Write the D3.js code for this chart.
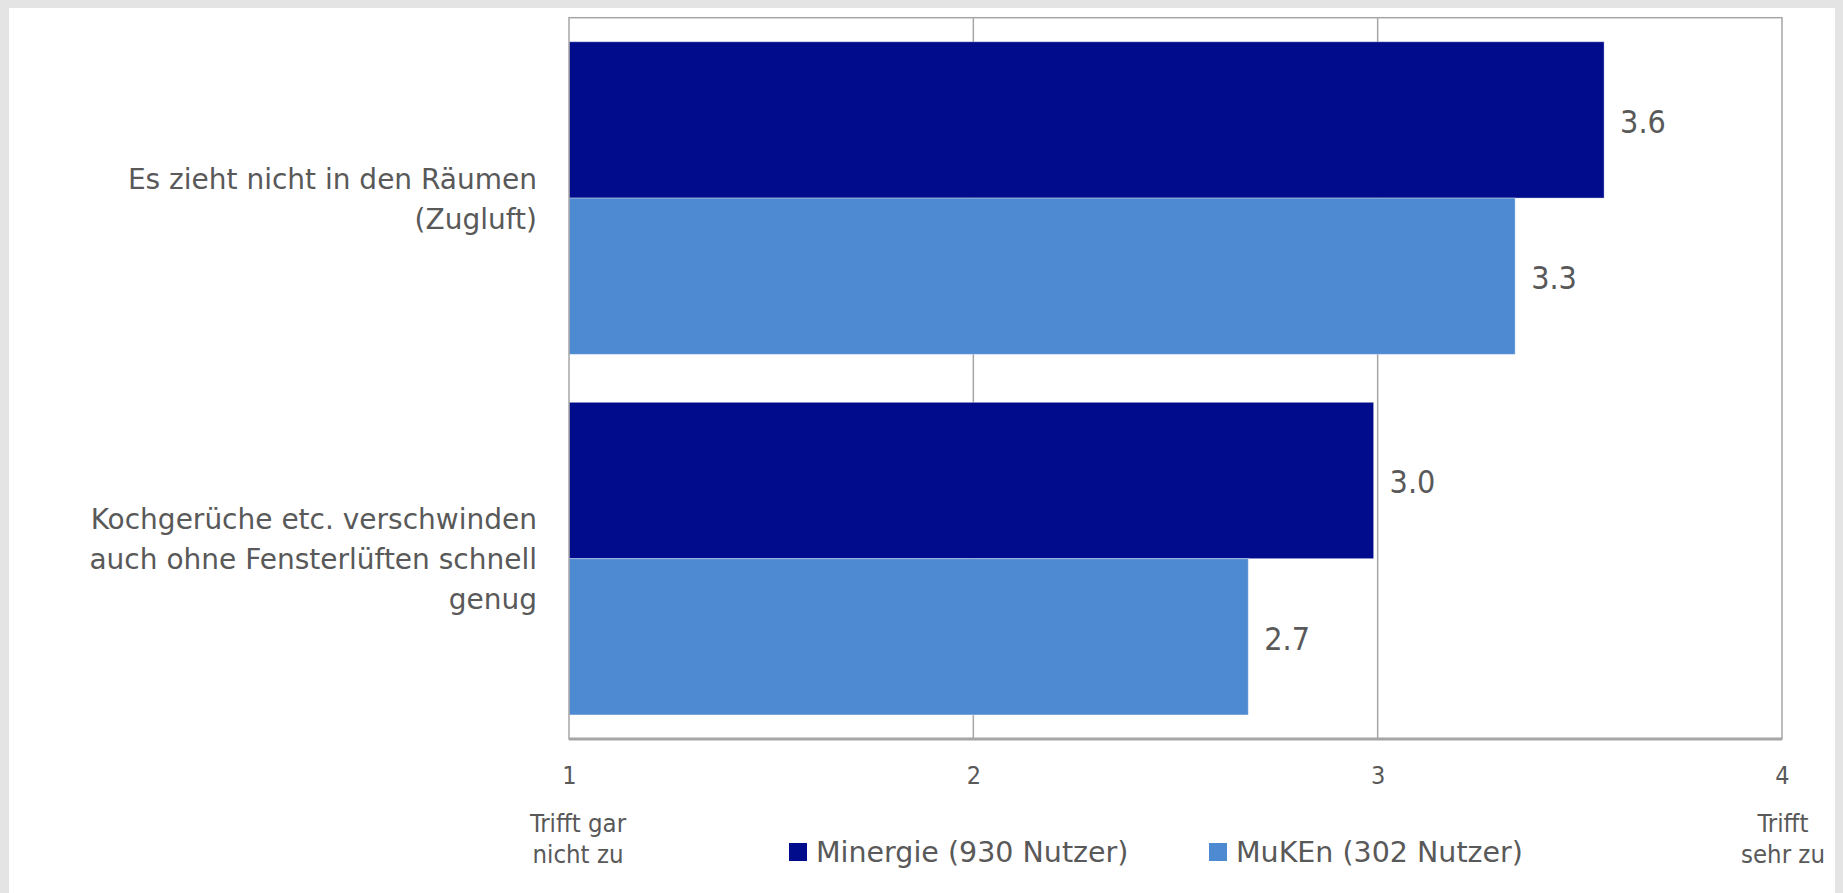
<!DOCTYPE html>
<html>
<head>
<meta charset="utf-8">
<script src="https://cdn.jsdelivr.net/npm/d3@7"></script>
<style>
  html, body { margin: 0; padding: 0; background: #e4e4e4; }
  svg { display: block; }
  text { font-family: "DejaVu Sans", sans-serif; fill: #595959; }
  .narrow { font-family: "DejaVu Sans Condensed", "DejaVu Sans", sans-serif; font-stretch: condensed; }
</style>
</head>
<body>
<svg id="chart" width="1843" height="893"></svg>
<script>
// Survey statements (line breaks mark the wrapped label lines)
const categories = [
  "Es zieht nicht in den Räumen\n(Zugluft)",
  "Kochgerüche etc. verschwinden\nauch ohne Fensterlüften schnell\ngenug"
];
const seriesNames = ["Minergie (930 Nutzer)", "MuKEn (302 Nutzer)"];
const minergieValues = [3.56, 2.99];
const mukenValues = [3.34, 2.68];
const tickValues = [1, 2, 3, 4];
const lowEndLabel = ["Trifft gar", "nicht zu"];
const highEndLabel = ["Trifft", "sehr zu"];

const colors = { "Minergie (930 Nutzer)": "#000c8c", "MuKEn (302 Nutzer)": "#4e8ad2" };
const seriesValues = { "Minergie (930 Nutzer)": minergieValues, "MuKEn (302 Nutzer)": mukenValues };

const svg = d3.select("#chart");
const W = 1843, H = 893;
const plot = { left: 569, right: 1782, top: 17.7, bottom: 739 };

// White card on grey page
svg.append("rect").attr("x", 9).attr("y", 8).attr("width", 1826).attr("height", H - 8).attr("fill", "#fff");

const x = d3.scaleLinear().domain([1, 4]).range([plot.left, plot.right]);
const y = d3.scaleBand().domain(categories).range([plot.top, plot.bottom])
  .paddingInner(0.133).paddingOuter(0.0667);
const ys = d3.scaleBand().domain(seriesNames).range([0, y.bandwidth()]);

// Vertical gridlines
svg.append("g").selectAll("line")
  .data(tickValues.filter(t => t > 1 && t < 4))
  .join("line")
  .attr("x1", d => x(d)).attr("x2", d => x(d))
  .attr("y1", plot.top).attr("y2", plot.bottom)
  .attr("stroke", "#a6a6a6").attr("stroke-width", 1.5);

// Bars
const rows = [];
categories.forEach((c, i) => seriesNames.forEach(s => rows.push({ cat: c, series: s, value: seriesValues[s][i] })));

svg.append("g").selectAll("rect")
  .data(rows)
  .join("rect")
  .attr("x", x(1))
  .attr("y", d => y(d.cat) + ys(d.series))
  .attr("width", d => x(d.value) - x(1))
  .attr("height", ys.bandwidth())
  .attr("fill", d => colors[d.series])
  .attr("stroke", "rgba(255,255,255,0.35)")
  .attr("stroke-width", 1);

// Value labels
const fmt = d3.format(".1f");
svg.append("g").selectAll("text")
  .data(rows)
  .join("text")
  .attr("class", "narrow")
  .attr("x", d => x(d.value) + 16)
  .attr("y", d => y(d.cat) + ys(d.series) + ys.bandwidth() / 2 + 2)
  .attr("dominant-baseline", "central")
  .attr("font-size", 32)
  .text(d => fmt(d.value));

// Plot frame
svg.append("rect")
  .attr("x", plot.left).attr("y", plot.top)
  .attr("width", plot.right - plot.left).attr("height", plot.bottom - plot.top)
  .attr("fill", "none").attr("stroke", "#a6a6a6").attr("stroke-width", 1.5);
svg.append("line")
  .attr("x1", plot.left).attr("x2", plot.right)
  .attr("y1", plot.bottom).attr("y2", plot.bottom)
  .attr("stroke", "#a6a6a6").attr("stroke-width", 3);

// Value axis
const axis = d3.axisBottom(x).tickValues(tickValues).tickFormat(d3.format("d")).tickSize(0).tickPadding(27);
const gx = svg.append("g").attr("transform", `translate(0,${plot.bottom})`).call(axis);
gx.select(".domain").remove();
gx.selectAll("text").attr("class", "narrow").attr("font-size", 25).attr("font-family", null).style("fill", "#595959");

// Category labels, right-aligned and wrapped
const lineGap = 40;
svg.append("g").selectAll("text")
  .data(categories)
  .join("text")
  .attr("text-anchor", "end")
  .attr("font-size", 28)
  .each(function (d) {
    const lines = d.split("\n");
    const c = y(d) + y.bandwidth() / 2;
    const first = c - (lines.length - 1) * lineGap / 2 + 10.5;
    d3.select(this).selectAll("tspan").data(lines).join("tspan")
      .attr("x", 537)
      .attr("y", (l, i) => first + i * lineGap)
      .text(l => l);
  });

// Scale end descriptions
[[lowEndLabel, 578], [highEndLabel, 1783]].forEach(([lines, cx]) => {
  svg.append("text").attr("class", "narrow").attr("text-anchor", "middle").attr("font-size", 25.5)
    .selectAll("tspan").data(lines).join("tspan")
    .attr("x", cx).attr("y", (l, i) => 832 + i * 31).text(l => l);
});

// Legend
const legendX = [789, 1209];
const lg = svg.append("g").selectAll("g").data(seriesNames).join("g")
  .attr("transform", (d, i) => `translate(${legendX[i]},843)`);
lg.append("rect").attr("width", 18).attr("height", 18).attr("fill", d => colors[d]);
lg.append("text").attr("x", 27).attr("y", 19).attr("font-size", 28.5).text(d => d);
</script>
</body>
</html>
